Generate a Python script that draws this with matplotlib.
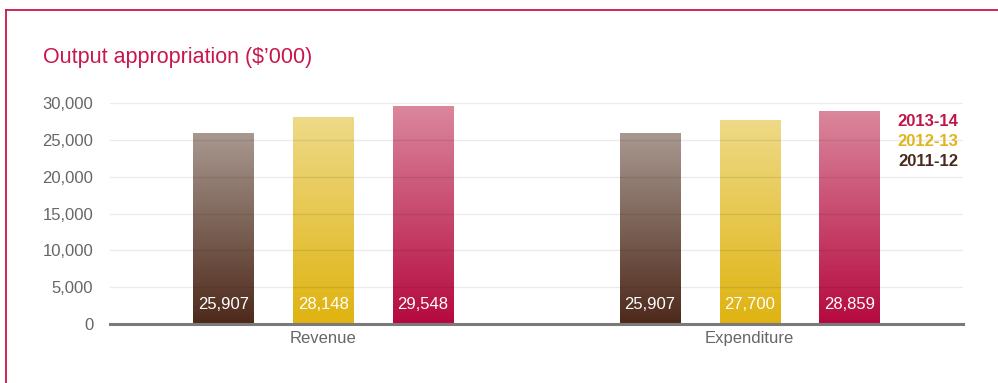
import numpy as np
import matplotlib
matplotlib.use("Agg")
import matplotlib.pyplot as plt
from matplotlib.colors import LinearSegmentedColormap
from matplotlib.lines import Line2D

# Data
categories = ["Revenue", "Expenditure"]
years = ["2011-12", "2012-13", "2013-14"]
values_2011_12 = [25907, 25907]
values_2012_13 = [28148, 27700]
values_2013_14 = [29548, 28859]
y_ticks = [0, 5000, 10000, 15000, 20000, 25000, 30000]

series = [values_2011_12, values_2012_13, values_2013_14]
# (top colour, bottom colour, legend colour) per year
palettes = [
    ("#a8988f", "#4d291b", "#4a2a1e"),
    ("#eeda88", "#dfb310", "#e2b41c"),
    ("#da879c", "#b5093f", "#c0174a"),
]
crimson = "#c8174a"

plt.rcParams["font.family"] = ["Liberation Sans", "DejaVu Sans"]

fig = plt.figure(figsize=(9.98, 3.83), dpi=100)
ax = fig.add_axes([110 / 998, 59 / 383, 853 / 998, 221 / 383])

# Panel frame
fig.add_artist(Line2D([6 / 998, 6 / 998], [0, 1 - 10 / 383], color=crimson, lw=1.3,
                      transform=fig.transFigure))
fig.add_artist(Line2D([6 / 998, 1.01], [1 - 10 / 383, 1 - 10 / 383], color=crimson, lw=1.3,
                      transform=fig.transFigure))

fig.text(43 / 998, 1 - 57 / 383, "Output appropriation ($\u2019000)", color=crimson,
         fontsize=15.5, va="center", ha="left")

bar_w = 0.141
offsets = [-0.234, 0.0, 0.234]
grad = np.linspace(0, 1, 256).reshape(-1, 1)

for vals, off, (top, bottom, _) in zip(series, offsets, palettes):
    cmap = LinearSegmentedColormap.from_list("g", [bottom, top])
    bars = ax.bar(np.arange(len(categories)) + off, vals, width=bar_w, color="none",
                  edgecolor="none", zorder=1)
    for rect, v in zip(bars, vals):
        x0 = rect.get_x()
        im = ax.imshow(grad, cmap=cmap, origin="lower", aspect="auto",
                       extent=[x0, x0 + bar_w, 0, v], zorder=1, interpolation="bilinear")
        im.set_clip_path(rect)
        ax.text(x0 + bar_w / 2, 2600, f"{v:,}", color="white", fontsize=12,
                ha="center", va="center", zorder=4)

ax.set_xlim(-0.5, 1.5)
ax.set_ylim(0, 30000)
ax.set_yticks(y_ticks)
ax.set_yticklabels([f"{t:,}" for t in y_ticks])
ax.set_xticks(range(len(categories)))
ax.set_xticklabels(categories)
ax.tick_params(axis="both", length=0, colors="#666666", labelsize=12)
ax.tick_params(axis="y", pad=12)
ax.tick_params(axis="x", pad=5)

for t in y_ticks[1:]:
    ax.axhline(t, color="black", alpha=0.08, lw=1, zorder=2)

for s in ["top", "right", "left"]:
    ax.spines[s].set_visible(False)
ax.spines["bottom"].set_color("#7a7a7a")
ax.spines["bottom"].set_linewidth(2.2)
ax.spines["bottom"].set_zorder(5)

# Text legend
for i, (yr, (_, _, c)) in enumerate(zip(years[::-1], palettes[::-1])):
    fig.text(958 / 998, 1 - (121 + 20.5 * i) / 383, yr, color=c, fontsize=12,
             fontweight="bold", ha="right", va="center")

fig.savefig("out.png", dpi=100)
